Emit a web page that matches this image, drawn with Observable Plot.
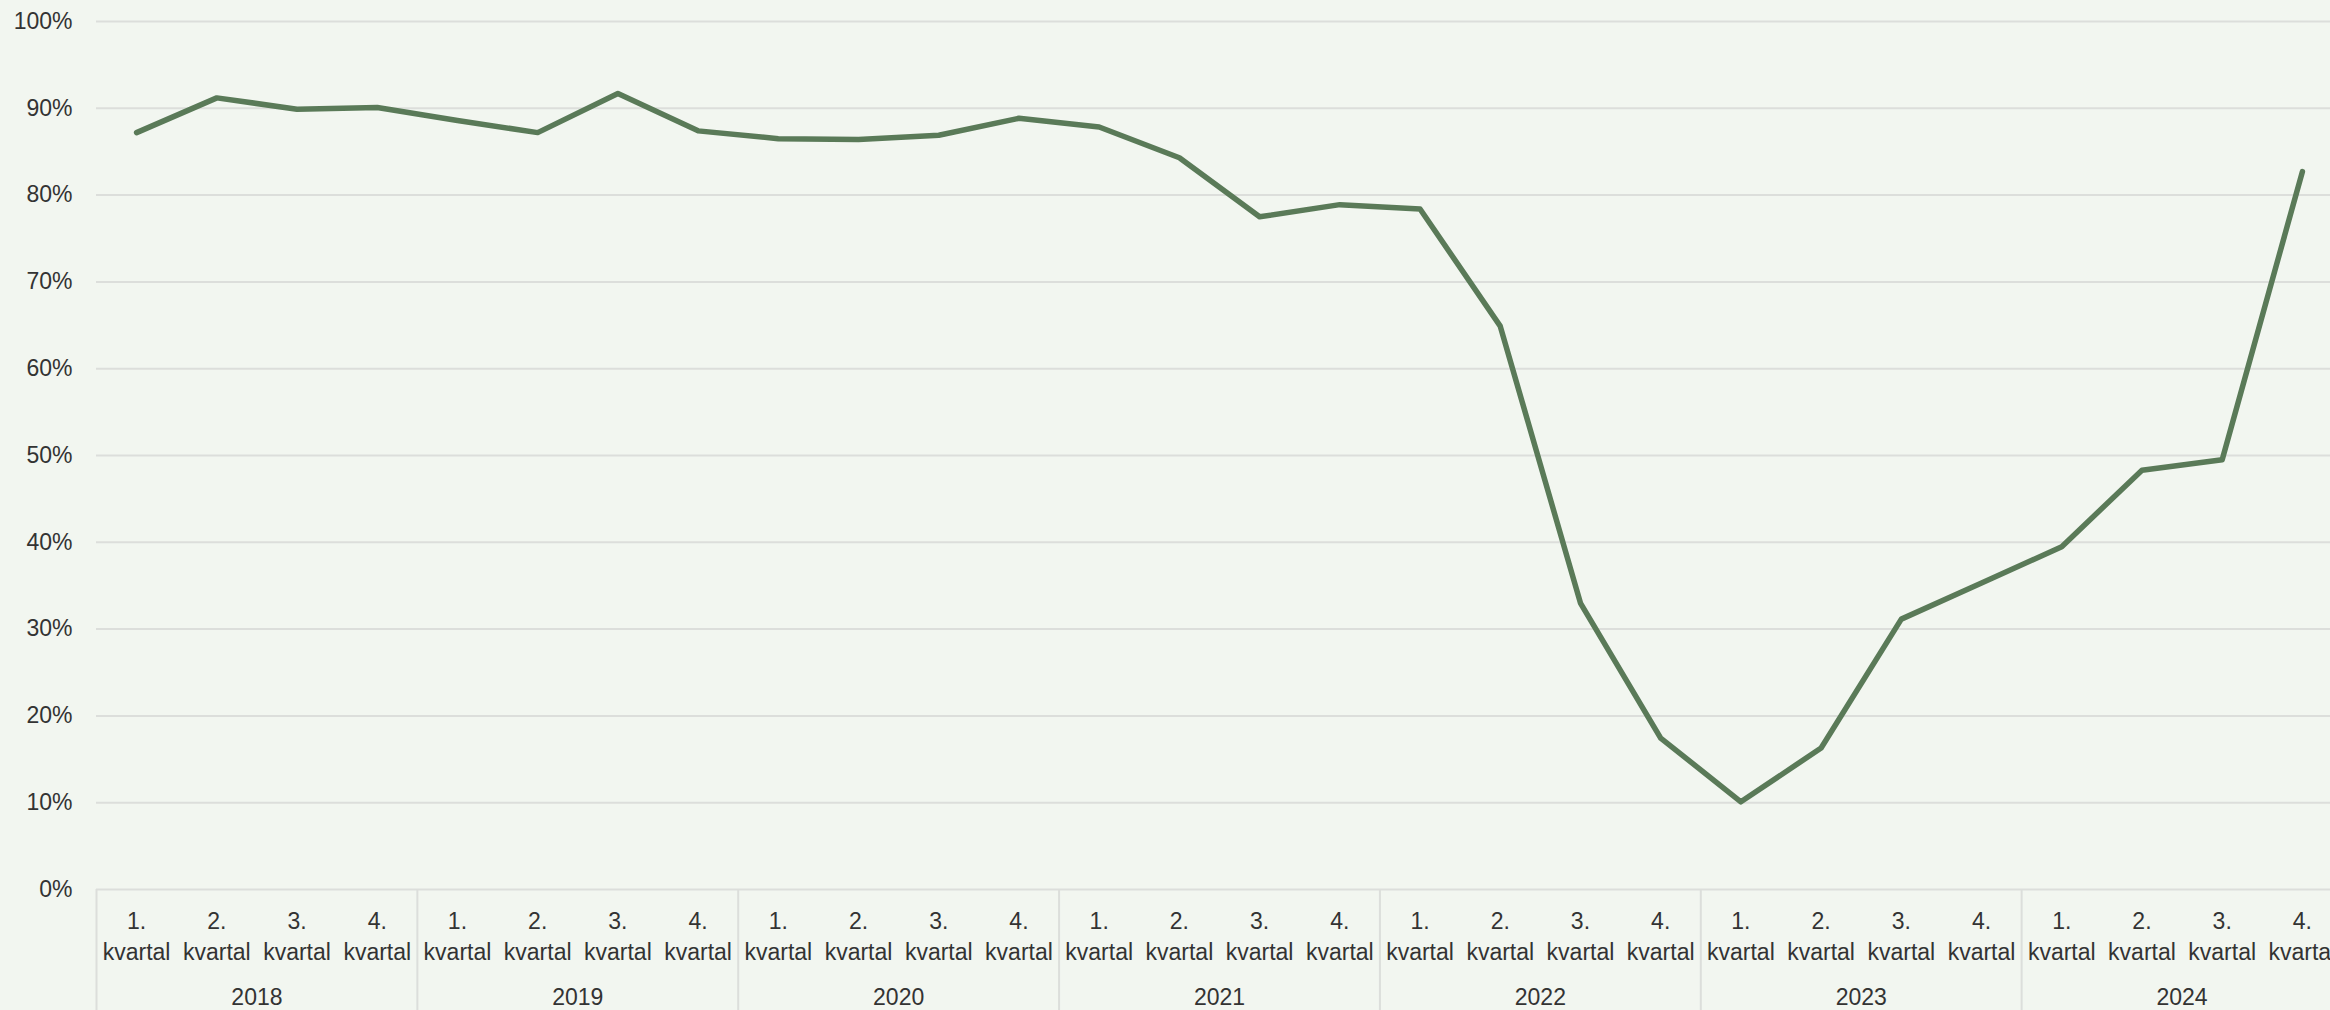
<!DOCTYPE html>
<html>
<head>
<meta charset="utf-8">
<script src="https://cdn.jsdelivr.net/npm/d3@7"></script>
<script src="https://cdn.jsdelivr.net/npm/@observablehq/plot@0.6"></script>
<style>
  html, body { margin: 0; padding: 0; background: #f2f6f0; overflow: hidden; }
  #chart { width: 2330px; height: 1010px; overflow: hidden; }
  #chart svg { max-width: none !important; }
</style>
</head>
<body>
<div id="chart"></div>
<script>
// ---- data ----
const years = ["2018", "2019", "2020", "2021", "2022", "2023", "2024"];
const quarterLabels = ["1.\nkvartal", "2.\nkvartal", "3.\nkvartal", "4.\nkvartal"];
const values = [
  87.2, 91.2, 89.9, 90.1,
  88.6, 87.2, 91.7, 87.4,
  86.5, 86.4, 86.9, 88.85,
  87.85, 84.3, 77.5, 78.9,
  78.4, 64.9, 33.0, 17.45,
  10.1, 16.3, 31.15, 35.3,
  39.5, 48.3, 49.5, 82.7
];
const yTicks = [0, 10, 20, 30, 40, 50, 60, 70, 80, 90, 100];
const separatorBottom = -14; // separators run below the axis to the bottom edge

// ---- tables built from the arrays ----
const rows = values.map((v, i) => ({
  pos: i + 0.5,
  value: v,
  label: quarterLabels[i % 4],
  year: years[Math.floor(i / 4)]
}));
const yearRows = years.map((y, j) => ({ pos: j * 4 + 2, year: y }));
const separators = d3.range(0, years.length + 1).map(j => ({ pos: j * 4 }));

const font = "'Liberation Sans', Arial, Helvetica, sans-serif";
const textColor = "#333333";
const gridColor = "#dcdedb";

const chart = Plot.plot({
  width: 2342,
  height: 1010,
  marginLeft: 96,
  marginRight: 0,
  marginTop: 21,
  marginBottom: 121,
  style: { background: "#f2f6f0", fontFamily: font, fontSize: "23px", color: textColor, maxWidth: "none" },
  x: { domain: [0, quarterLabels.length * years.length], axis: null },
  y: { domain: [0, 100], axis: null },
  marks: [
    Plot.gridY(yTicks, { stroke: gridColor, strokeOpacity: 1, strokeWidth: 2 }),
    Plot.ruleX(separators, { x: "pos", y1: 0, y2: separatorBottom, stroke: gridColor, strokeWidth: 2 }),
    Plot.axisY(yTicks, {
      tickSize: 0, tickPadding: 24, tickFormat: d => d + "%",
      label: null, fontSize: 23, fill: textColor
    }),
    Plot.text(rows, {
      x: "pos", y: 0, text: "label",
      lineAnchor: "top", dy: 17, lineHeight: 1.35,
      fontSize: 23, fill: textColor, textAnchor: "middle"
    }),
    Plot.text(yearRows, {
      x: "pos", y: 0, text: "year",
      lineAnchor: "top", dy: 99,
      fontSize: 23, fill: textColor, textAnchor: "middle"
    }),
    Plot.line(rows, {
      x: "pos", y: "value",
      stroke: "#5a7a58", strokeWidth: 5.5,
      strokeLinecap: "round", strokeLinejoin: "round"
    })
  ]
});
document.getElementById("chart").appendChild(chart);
</script>
</body>
</html>
